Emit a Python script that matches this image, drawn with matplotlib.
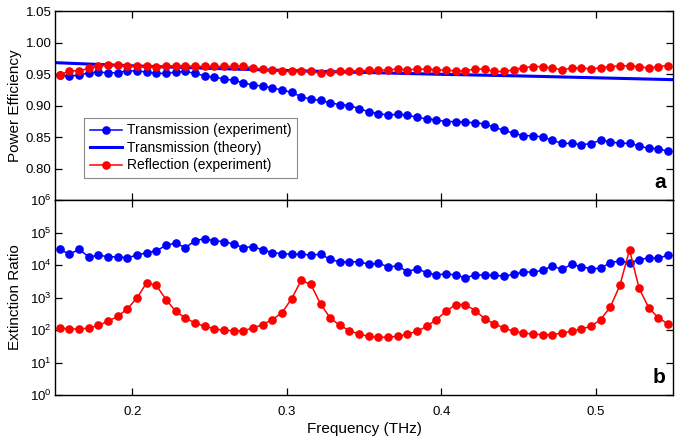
import numpy as np
import matplotlib
matplotlib.use("Agg")
import matplotlib.pyplot as plt

plt.rcParams['font.family'] = ['Liberation Sans', 'DejaVu Sans']
plt.rcParams['mathtext.default'] = 'regular'

# Frequency grid (THz): uniform sampling
f_start = 0.1531
f_step = 0.00625
n_pts = 64
freq = f_start + f_step * np.arange(n_pts)

# Panel a: power efficiency
trans_exp = [0.948, 0.947, 0.948, 0.952, 0.953, 0.952, 0.952, 0.955, 0.955, 0.953,
             0.951, 0.951, 0.953, 0.954, 0.951, 0.947, 0.945, 0.942, 0.940, 0.936,
             0.9325, 0.931, 0.928, 0.9245, 0.921, 0.914, 0.910, 0.908, 0.904, 0.9015,
             0.900, 0.895, 0.890, 0.887, 0.885, 0.886, 0.885, 0.881, 0.879, 0.877,
             0.8745, 0.8745, 0.8735, 0.8727, 0.8707, 0.8655, 0.8604, 0.8562, 0.852, 0.852,
             0.850, 0.845, 0.8398, 0.8398, 0.838, 0.8393, 0.845, 0.8423, 0.840, 0.840,
             0.8357, 0.832, 0.8315, 0.827]
refl_exp = [0.9485, 0.955, 0.955, 0.959, 0.963, 0.964, 0.964, 0.963, 0.962, 0.962,
            0.961, 0.962, 0.963, 0.963, 0.962, 0.962, 0.962, 0.962, 0.962, 0.962,
            0.960, 0.9577, 0.956, 0.955, 0.954, 0.954, 0.954, 0.951, 0.9525, 0.955,
            0.955, 0.955, 0.956, 0.956, 0.9567, 0.9577, 0.9567, 0.9577, 0.9577, 0.9567,
            0.956, 0.955, 0.955, 0.958, 0.9577, 0.954, 0.954, 0.9567, 0.960, 0.9618,
            0.9618, 0.9593, 0.9567, 0.9593, 0.960, 0.958, 0.960, 0.9618, 0.963, 0.963,
            0.9618, 0.9593, 0.9618, 0.9634]
theory_freq = [0.15, 0.20, 0.25, 0.30, 0.35, 0.40, 0.45, 0.50, 0.55]
theory_trans = [0.968, 0.963, 0.959, 0.9555, 0.9525, 0.9495, 0.947, 0.944, 0.941]

# Panel b: extinction ratio (log10 values)
trans_er_log = [4.485, 4.330, 4.485, 4.247, 4.299, 4.258, 4.247, 4.227, 4.299, 4.381,
                4.433, 4.608, 4.670, 4.536, 4.742, 4.814, 4.742, 4.722, 4.639, 4.536,
                4.567, 4.464, 4.381, 4.350, 4.330, 4.330, 4.309, 4.330, 4.175, 4.093,
                4.093, 4.103, 4.021, 4.052, 3.948, 3.969, 3.794, 3.887, 3.763, 3.691,
                3.732, 3.691, 3.608, 3.691, 3.691, 3.680, 3.660, 3.711, 3.784, 3.784,
                3.835, 3.969, 3.866, 4.021, 3.948, 3.887, 3.897, 4.072, 4.124, 4.072,
                4.155, 4.227, 4.206, 4.309]
refl_er_log = [2.062, 2.031, 2.031, 2.062, 2.144, 2.268, 2.423, 2.649, 2.990, 3.454,
               3.371, 2.938, 2.577, 2.371, 2.216, 2.113, 2.041, 1.990, 1.979, 1.979,
               2.062, 2.165, 2.320, 2.526, 2.959, 3.526, 3.402, 2.804, 2.371, 2.144,
               1.979, 1.876, 1.804, 1.773, 1.784, 1.804, 1.876, 1.959, 2.113, 2.320,
               2.577, 2.784, 2.784, 2.598, 2.351, 2.186, 2.062, 1.959, 1.907, 1.876,
               1.856, 1.856, 1.907, 1.959, 2.031, 2.113, 2.320, 2.701, 3.371, 4.464,
               3.278, 2.680, 2.371, 2.186]

x_ticks = [0.2, 0.3, 0.4, 0.5]
y_ticks_a = [0.80, 0.85, 0.90, 0.95, 1.00, 1.05]
y_ticks_b = [1e0, 1e1, 1e2, 1e3, 1e4, 1e5, 1e6]

BLUE = '#0000ff'
RED = '#ff0000'

fig = plt.figure(figsize=(6.75, 4.4), dpi=100)
L, R = 55 / 675, 673 / 675
ax1 = fig.add_axes([L, 1 - 200 / 440, R - L, (200 - 11) / 440])
ax2 = fig.add_axes([L, 1 - 395 / 440, R - L, (395 - 200) / 440])

mk = dict(marker='o', markersize=5.2, linewidth=1.1)
ax1.plot(freq, trans_exp, color=BLUE, label='Transmission (experiment)', **mk)
ax1.plot(theory_freq, theory_trans, color=BLUE, linewidth=2.2, label='Transmission (theory)')
ax1.plot(freq, refl_exp, color=RED, label='Reflection (experiment)', **mk)

ax2.plot(freq, 10 ** np.array(trans_er_log), color=BLUE, **mk)
ax2.plot(freq, 10 ** np.array(refl_er_log), color=RED, **mk)
ax2.set_yscale('log')

for ax in (ax1, ax2):
    ax.set_xlim(0.15, 0.55)
    ax.set_xticks(x_ticks)
    ax.tick_params(direction='in', top=True, right=True, length=5, width=0.9,
                   labelsize=9.5, which='major')
    ax.tick_params(axis='x', pad=8)
    ax.tick_params(axis='y', pad=2.5)
    ax.tick_params(which='minor', length=0)
    for s in ax.spines.values():
        s.set_linewidth(1.0)

ax1.set_ylim(0.75, 1.05)
ax1.set_yticks(y_ticks_a)
ax1.set_yticklabels(['%.2f' % v for v in y_ticks_a])
ax1.tick_params(labelbottom=False)
ax1.set_ylabel('Power Efficiency', fontsize=11)

ax2.set_ylim(1e0, 1e6)
ax2.set_yticks(y_ticks_b)
ax2.minorticks_off()
ax2.set_ylabel('Extinction Ratio', fontsize=11)
ax2.set_xticklabels(['%.1f' % v for v in x_ticks])
ax2.set_xlabel('Frequency (THz)', fontsize=11, labelpad=3)

ax1.yaxis.set_label_coords(-0.054, 0.5)
ax2.yaxis.set_label_coords(-0.054, 0.5)

leg = ax1.legend(loc='lower left', bbox_to_anchor=(0.036, 0.08), fontsize=10,
                 fancybox=False, edgecolor='#888888', framealpha=1,
                 handlelength=2.3, handletextpad=0.4, borderpad=0.4, labelspacing=0.25)
leg.get_frame().set_linewidth(0.8)

ax1.text(0.988, 0.04, 'a', transform=ax1.transAxes, ha='right', va='bottom',
         fontsize=15, fontweight='bold')
ax2.text(0.988, 0.04, 'b', transform=ax2.transAxes, ha='right', va='bottom',
         fontsize=15, fontweight='bold')

fig.savefig('out.png', dpi=100)
